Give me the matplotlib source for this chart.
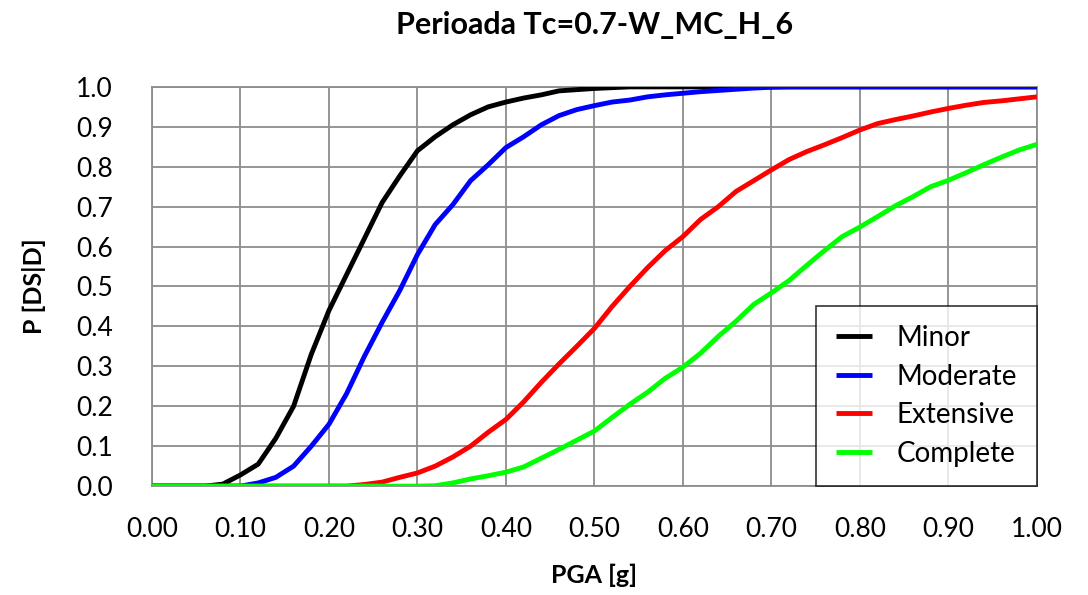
import numpy as np
import matplotlib
matplotlib.use('Agg')
import matplotlib.pyplot as plt

plt.rcParams['font.family'] = ['Lato', 'DejaVu Sans']

# PGA grid [g], read every 0.02 g
pga = [round(0.02 * i, 2) for i in range(51)]

minor = [0, 0, 0, 0, 0.005, 0.028, 0.055, 0.12, 0.2, 0.33,
         0.44, 0.53, 0.62, 0.71, 0.777, 0.84, 0.875, 0.905, 0.93, 0.95,
         0.962, 0.972, 0.98, 0.99, 0.993, 0.996, 0.998, 1, 1, 1,
         1, 1, 1, 1, 1, 1, 1, 1, 1, 1,
         1, 1, 1, 1, 1, 1, 1, 1, 1, 1, 1]
moderate = [0, 0, 0, 0, 0, 0, 0.008, 0.022, 0.05, 0.1,
            0.155, 0.232, 0.325, 0.41, 0.49, 0.58, 0.655, 0.705, 0.765, 0.805,
            0.848, 0.875, 0.905, 0.928, 0.943, 0.953, 0.962, 0.967, 0.975, 0.98,
            0.984, 0.988, 0.991, 0.994, 0.997, 0.999, 1, 1, 1, 1,
            1, 1, 1, 1, 1, 1, 1, 1, 1, 1, 1]
extensive = [0, 0, 0, 0, 0, 0, 0, 0, 0, 0,
             0, 0, 0.004, 0.01, 0.022, 0.033, 0.05, 0.073, 0.1, 0.135,
             0.167, 0.211, 0.26, 0.306, 0.35, 0.395, 0.45, 0.5, 0.547, 0.59,
             0.625, 0.668, 0.7, 0.738, 0.765, 0.792, 0.818, 0.838, 0.855, 0.873,
             0.892, 0.908, 0.918, 0.927, 0.937, 0.946, 0.954, 0.961, 0.965, 0.97, 0.975]
complete = [0, 0, 0, 0, 0, 0, 0, 0, 0, 0,
            0, 0, 0, 0, 0, 0, 0.001, 0.008, 0.018, 0.026,
            0.035, 0.048, 0.07, 0.092, 0.115, 0.138, 0.172, 0.205, 0.235, 0.27,
            0.298, 0.333, 0.375, 0.413, 0.455, 0.484, 0.515, 0.553, 0.59, 0.625,
            0.649, 0.675, 0.702, 0.725, 0.75, 0.766, 0.785, 0.805, 0.824, 0.842, 0.856]

series = [('Minor', minor, '#000000'),
          ('Moderate', moderate, '#0000ff'),
          ('Extensive', extensive, '#ff0000'),
          ('Complete', complete, '#00ff00')]

fig = plt.figure(figsize=(10.88, 5.95), dpi=100)
ax = fig.add_axes([0.1397, 0.183, 0.8133, 0.671])

for name, vals, col in series:
    ax.plot(pga, vals, color=col, lw=3.5, label=name, zorder=3,
            solid_capstyle='butt')

ax.set_xlim(0, 1)
ax.set_ylim(0, 1)
ax.set_xticks(np.arange(0, 1.01, 0.1))
ax.set_yticks(np.arange(0, 1.01, 0.1))
ax.xaxis.set_major_formatter(plt.FuncFormatter(lambda v, pos: '{:.2f}'.format(v)))
ax.yaxis.set_major_formatter(plt.FuncFormatter(lambda v, pos: '{:.1f}'.format(v)))
ax.tick_params(length=0, labelsize=19)
ax.tick_params(axis='y', pad=28)
ax.tick_params(axis='x', pad=22)

ax.grid(True, color='#8c8c8c', lw=1.3, zorder=0)
for s in ax.spines.values():
    s.set_color('#8c8c8c')
    s.set_linewidth(1.3)

ax.set_xlabel('PGA [g]', fontsize=18, fontweight='bold', labelpad=16)
ax.set_ylabel('P [DS|D]', fontsize=18, fontweight='bold', labelpad=22)
ax.set_title('Perioada Tc=0.7-W_MC_H_6', fontsize=22, fontweight='bold', pad=38)

leg = ax.legend(loc='lower right', fontsize=20, frameon=True, fancybox=False,
                borderaxespad=0, handlelength=1.3, handletextpad=0.9,
                borderpad=0.7, labelspacing=0.45)
leg.get_frame().set_edgecolor('black')
leg.get_frame().set_linewidth(1.2)
leg.set_zorder(5)

fig.savefig('out.png', dpi=100)
